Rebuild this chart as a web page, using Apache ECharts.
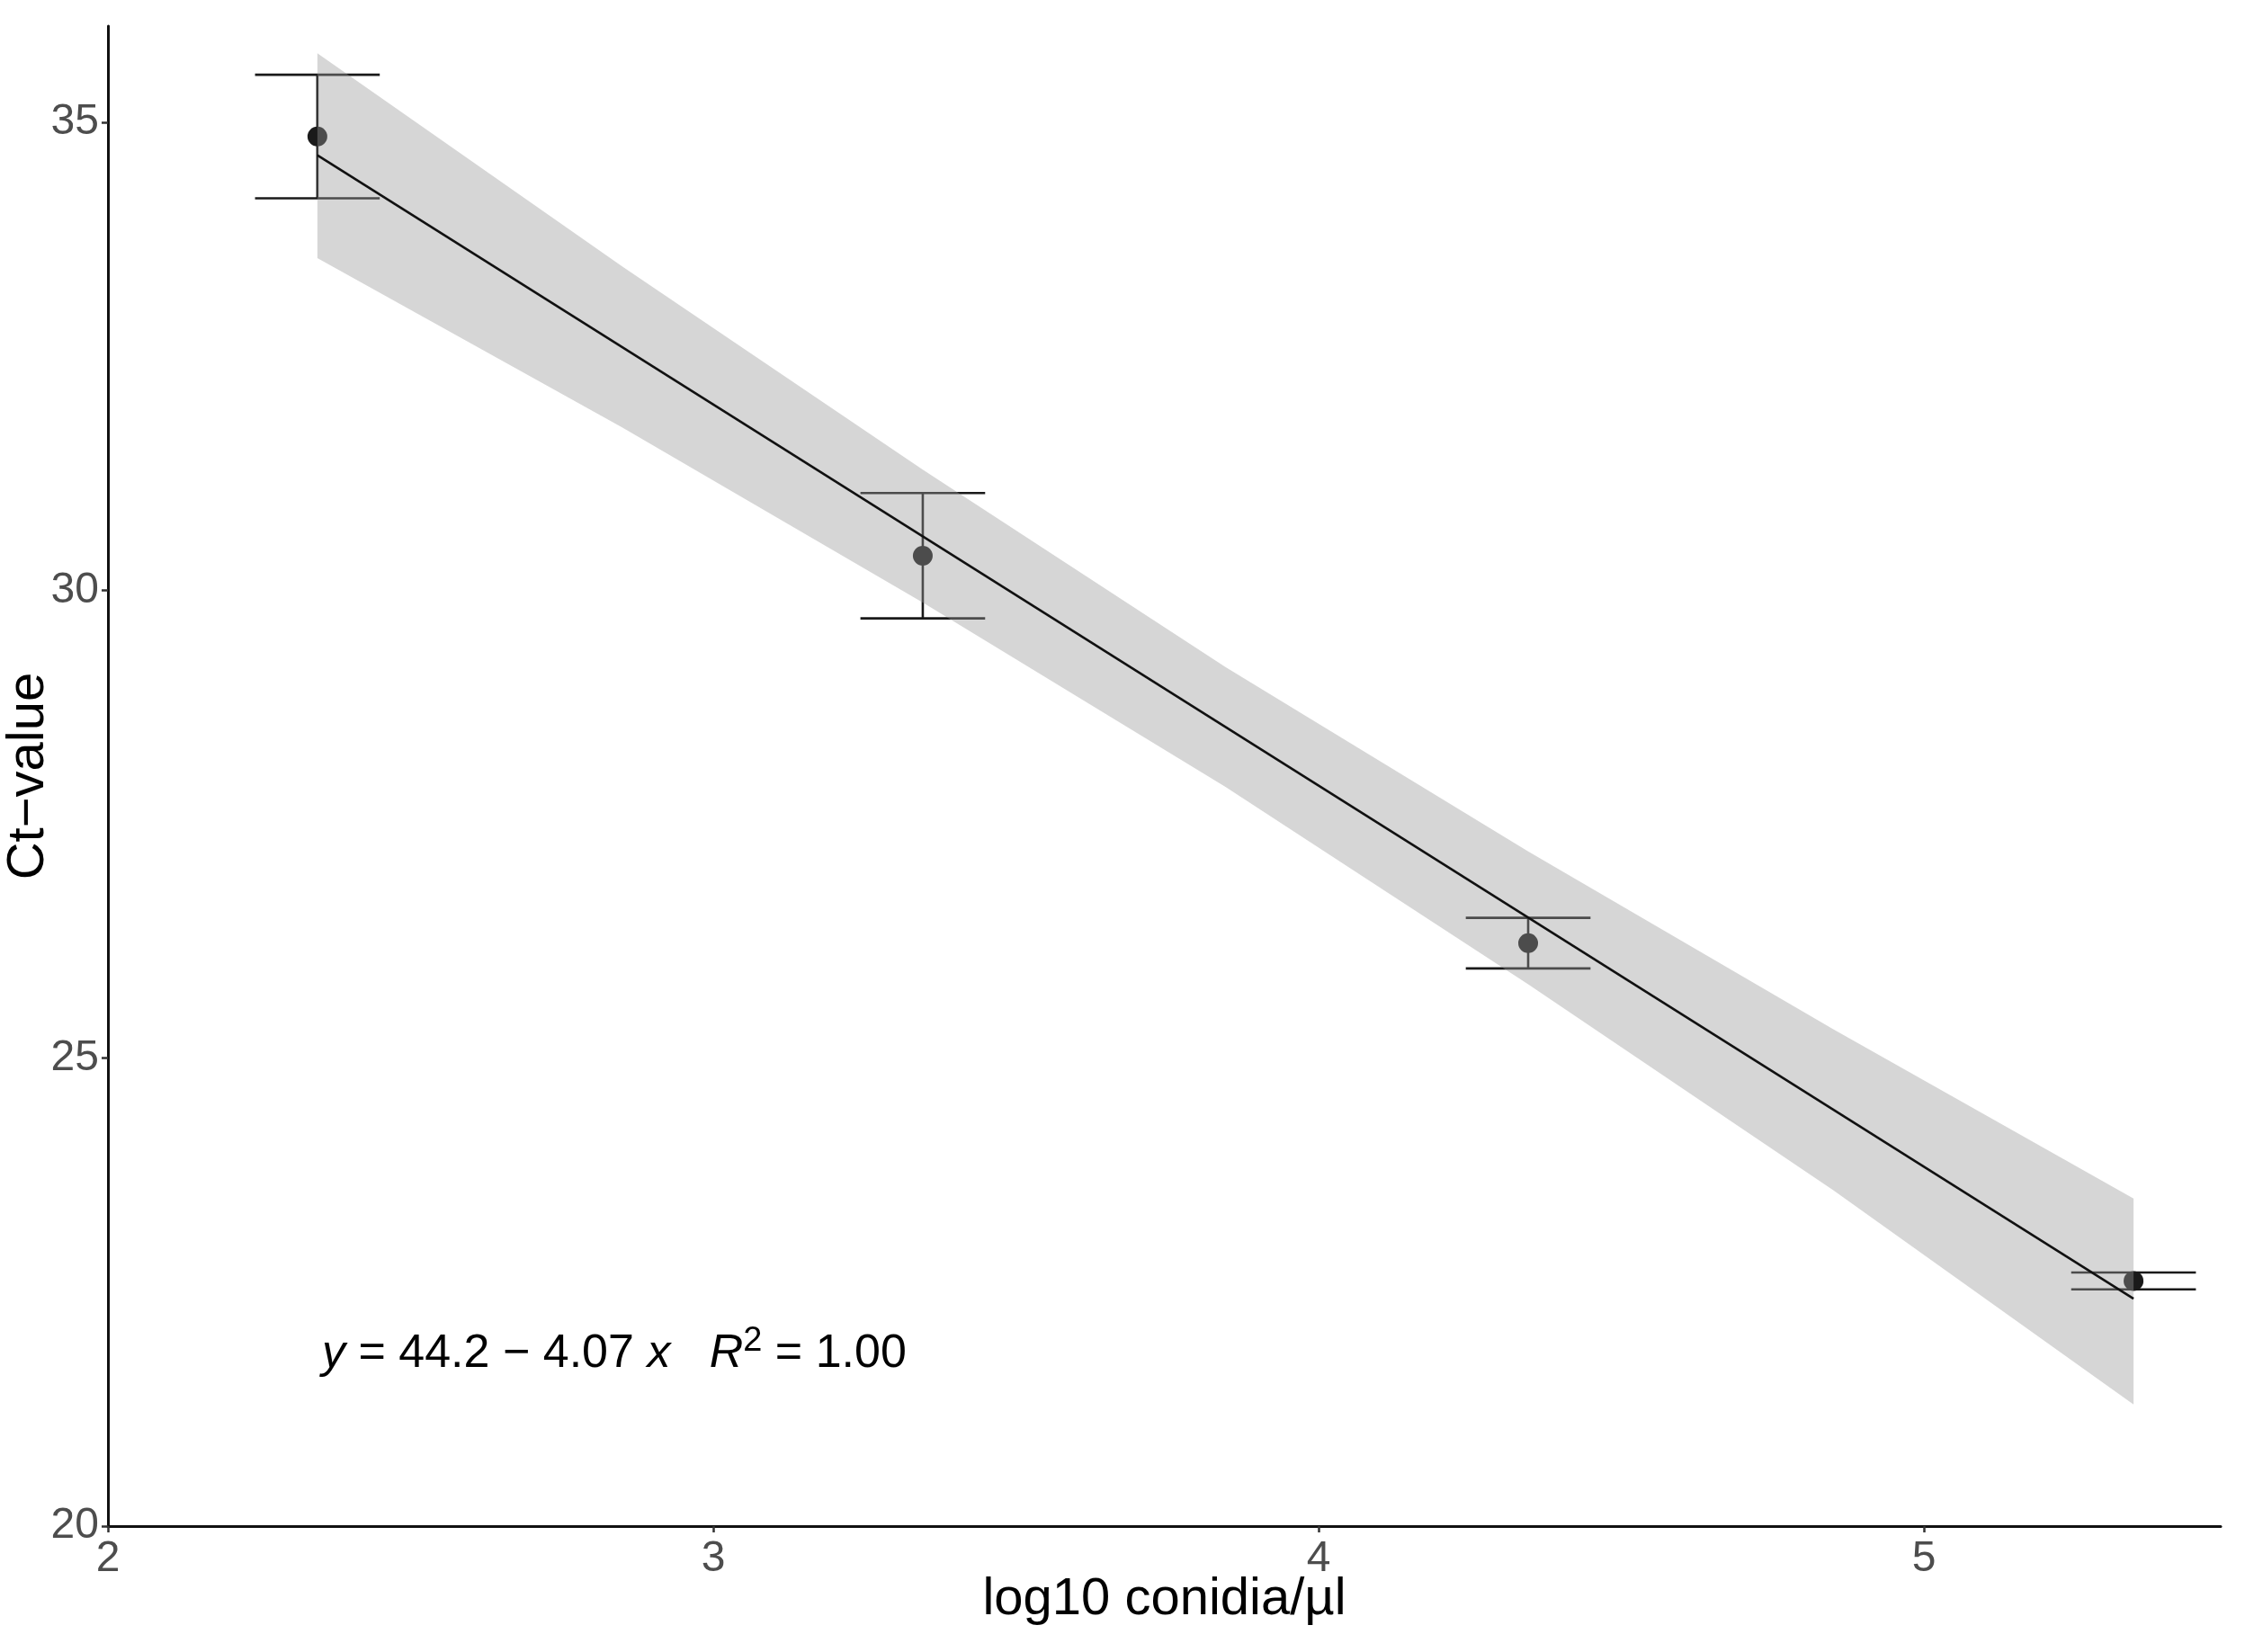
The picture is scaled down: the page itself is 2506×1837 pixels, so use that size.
<!DOCTYPE html>
<html>
<head>
<meta charset="utf-8">
<script src="https://cdn.jsdelivr.net/npm/echarts@6/dist/echarts.min.js"></script>
<style>
  html, body { margin: 0; padding: 0; background: #fff; }
  #chart { width: 2506px; height: 1837px; }
</style>
</head>
<body>
<div id="chart"></div>
<script>
  // mean Ct per dilution, with sd
  var concX = [2.346, 3.346, 4.346, 5.346];
  var ctMean = [34.85, 30.37, 26.23, 22.62];
  var ctSd = [0.66, 0.67, 0.27, 0.09];

  // regression line (ends)
  var fitX = [2.346, 5.346];
  var fitY = [34.65, 22.43];

  // confidence band
  var ribbonX = [2.346, 2.85, 3.346, 3.846, 4.346, 4.85, 5.346];
  var ribbonLo = [33.55, 31.74, 29.87, 27.90, 25.79, 23.59, 21.30];
  var ribbonHi = [35.74, 33.46, 31.29, 29.18, 27.21, 25.31, 23.50];

  var xTicks = [2, 3, 4, 5];
  var yTicks = [20, 25, 30, 35];

  var FONT = 'Liberation Sans, Arial, sans-serif';
  var CAP_HALF = 0.103;

  var chart = echarts.init(document.getElementById('chart'));

  var errRows = concX.map(function (x, i) {
    return [x, ctMean[i] - ctSd[i], ctMean[i] + ctSd[i]];
  });
  var ribbonRows = ribbonX.map(function (x, i) {
    return [x, ribbonLo[i], ribbonHi[i]];
  });

  chart.setOption({
    animation: false,
    backgroundColor: '#fff',
    title: {
      left: 353,
      top: 1468,
      text: '{i|y} = 44.2 \u2212 4.07 {i|x}   {i|R}{s|2} = 1.00',
      textStyle: {
        fontFamily: FONT,
        fontSize: 52,
        fontWeight: 'normal',
        color: '#000',
        lineHeight: 66,
        rich: {
          i: { fontFamily: FONT, fontSize: 52, fontStyle: 'italic', color: '#000' },
          s: { fontFamily: FONT, fontSize: 38, color: '#000', verticalAlign: 'top', lineHeight: 34 }
        }
      }
    },
    grid: { left: 120, right: 37, top: 29, bottom: 140, outerBoundsMode: 'none' },
    xAxis: {
      type: 'value',
      min: 2,
      max: 5.49,
      name: 'log10 conidia/\u00b5l',
      nameLocation: 'middle',
      nameGap: 53,
      nameMoveOverlap: false,
      nameTextStyle: { fontFamily: FONT, fontSize: 58, color: '#000' },
      splitLine: { show: false },
      axisLine: { lineStyle: { color: '#111', width: 3 } },
      axisTick: { customValues: xTicks, length: 7, lineStyle: { color: '#333', width: 2.5 } },
      axisLabel: {
        customValues: xTicks,
        margin: 13,
        fontFamily: FONT,
        fontSize: 48,
        color: '#4d4d4d'
      }
    },
    yAxis: {
      type: 'value',
      min: 20,
      max: 36.03,
      name: 'Ct\u2212value',
      nameLocation: 'middle',
      nameGap: 59,
      nameMoveOverlap: false,
      nameTextStyle: { fontFamily: FONT, fontSize: 58, color: '#000' },
      splitLine: { show: false },
      axisLine: { show: true, lineStyle: { color: '#111', width: 3 } },
      axisTick: { show: true, customValues: yTicks, length: 7, lineStyle: { color: '#333', width: 2.5 } },
      axisLabel: {
        customValues: yTicks,
        margin: 10,
        fontFamily: FONT,
        fontSize: 48,
        color: '#4d4d4d'
      }
    },
    series: [
      {
        // error bars
        type: 'custom',
        z: 2,
        data: errRows,
        encode: { x: 0, y: [1, 2] },
        renderItem: function (params, api) {
          var x = api.value(0);
          var lo = api.coord([x, api.value(1)]);
          var hi = api.coord([x, api.value(2)]);
          var l = api.coord([x - CAP_HALF, api.value(1)])[0];
          var r = api.coord([x + CAP_HALF, api.value(1)])[0];
          var st = { stroke: '#1a1a1a', lineWidth: 2.6 };
          return {
            type: 'group',
            children: [
              { type: 'line', shape: { x1: lo[0], y1: lo[1], x2: hi[0], y2: hi[1] }, style: st },
              { type: 'line', shape: { x1: l, y1: lo[1], x2: r, y2: lo[1] }, style: st },
              { type: 'line', shape: { x1: l, y1: hi[1], x2: r, y2: hi[1] }, style: st }
            ]
          };
        }
      },
      {
        type: 'scatter',
        z: 3,
        symbolSize: 22,
        itemStyle: { color: '#1a1a1a', opacity: 1 },
        data: concX.map(function (x, i) { return [x, ctMean[i]]; })
      },
      {
        // confidence ribbon
        type: 'custom',
        z: 4,
        data: ribbonRows,
        encode: { x: 0, y: [1, 2] },
        renderItem: function (params, api) {
          if (params.dataIndex !== 0) return null;
          var pts = [];
          ribbonRows.forEach(function (r) { pts.push(api.coord([r[0], r[2]])); });
          ribbonRows.slice().reverse().forEach(function (r) { pts.push(api.coord([r[0], r[1]])); });
          return {
            type: 'polygon',
            shape: { points: pts },
            style: { fill: 'rgba(153,153,153,0.4)' }
          };
        }
      },
      {
        type: 'line',
        z: 5,
        symbol: 'none',
        lineStyle: { color: '#111', width: 2.6 },
        data: fitX.map(function (x, i) { return [x, fitY[i]]; })
      }
    ]
  });
</script>
</body>
</html>
